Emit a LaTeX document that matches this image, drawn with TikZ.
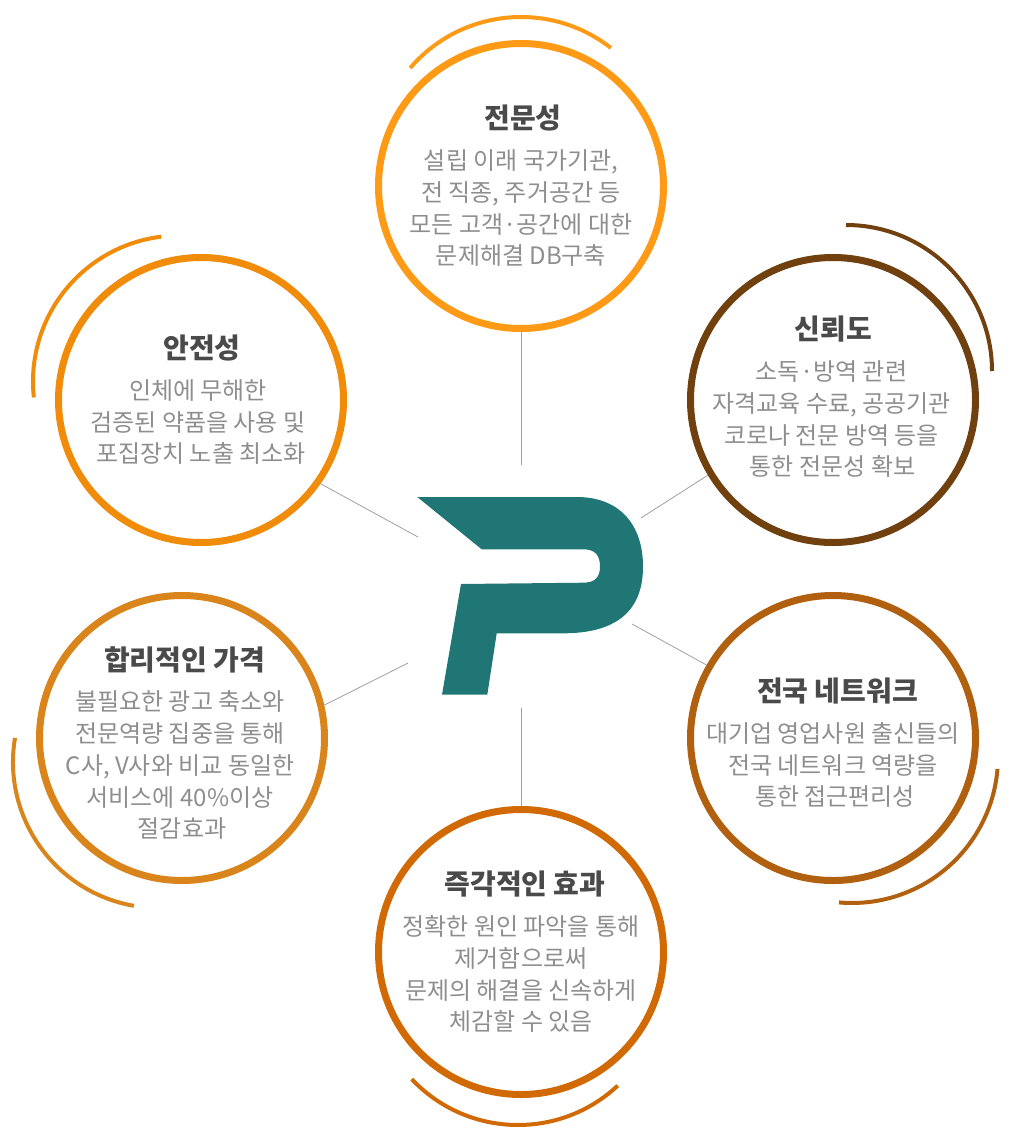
\documentclass[tikz,border=0pt]{standalone}
\usepackage{fontspec}
\setmainfont{Noto Sans CJK KR}
\usepackage{xcolor}
\usepackage{tikz}
\definecolor{expertc}{HTML}{FF9A17}
\definecolor{trustc}{HTML}{70400F}
\definecolor{netc}{HTML}{B0600F}
\definecolor{quickc}{HTML}{D16A05}
\definecolor{pricec}{HTML}{D9851C}
\definecolor{safec}{HTML}{F08C0A}
\definecolor{logoc}{HTML}{207575}
\definecolor{titlec}{HTML}{4A4A4A}
\definecolor{bodyc}{HTML}{8E8E8E}
\definecolor{linec}{HTML}{A0A0A0}
\newcommand{\ttl}[2]{\hspace*{#1pt}{\fontsize{28}{31.7}\selectfont\bfseries\color{titlec}#2}\\[9pt]}

\begin{document}
\begin{tikzpicture}[x=1pt, y=-1pt, 
    main/.style = {draw, circle, line width=7pt, minimum size=285pt, inner sep=0pt, outer sep=3.5pt},
    topic/.style = {align=center, inner sep=0pt, text=bodyc, font=\fontsize{24}{31.7}\selectfont},
    ring/.style = {line width=4pt},
    spoke/.style = {draw=linec, line width=0.8pt}]
    \useasboundingbox (0,0) rectangle (1024,1140);
    \node[main, draw=expertc] (expert) at (521,186) {};
    \node[main, draw=trustc] (trust) at (833,400) {};
    \node[main, draw=netc] (net) at (833,738) {};
    \node[main, draw=quickc] (quick) at (521,952) {};
    \node[main, draw=pricec] (price) at (182,738) {};
    \node[main, draw=safec] (safe) at (201,400) {};
    % circle texts
    \node[topic] (experttext) at (521,186) {\ttl{4}{전문성}설립 이래 국가기관,\\전 직종, 주거공간 등\\모든 고객·공간에 대한\\문제해결 DB구축};
    \node[topic] (trusttext) at (831.5,397) {\ttl{4}{신뢰도}소독·방역 관련\\자격교육 수료, 공공기관\\코로나 전문 방역 등을\\\hspace*{2pt}통한 전문성 확보};
    \node[topic] (nettext) at (833,743) {\ttl{9}{전국 네트워크}대기업 영업사원 출신들의\\전국 네트워크 역량을\\\hspace*{4pt}통한 접근편리성};
    \node[topic] (quicktext) at (521,952) {\ttl{8}{즉각적인 효과}정확한 원인 파악을 통해\\제거함으로써\\문제의 해결을 신속하게\\체감할 수 있음};
    \node[topic] (pricetext) at (180,743) {\ttl{9}{합리적인 가격}불필요한 광고 축소와\\전문역량 집중을 통해\\C사, V사와 비교 동일한\\서비스에 40\%이상\\\hspace*{4pt}절감효과};
    \node[topic] (safetext) at (198,400) {\ttl{8}{안전성}인체에 무해한\\검증된 약품을 사용 및\\\hspace*{6pt}포집장치 노출 최소화};
    % outer rings
    \draw[ring, expertc] (521,163) ++(-139.4:146) arc (-139.4:-52:146);
    \draw[ring, trustc] (846,371) ++(-90:146) arc (-90:0:146);
    \draw[ring, netc] (852,757) ++(4.7:146) arc (4.7:95.1:146);
    \draw[ring, quickc] (518,979) ++(136.7:146) arc (136.7:46.9:146);
    \draw[ring, pricec] (159,762) ++(189.5:146) arc (189.5:99.9:146);
    \draw[ring, safec] (179,381.6) ++(-97:146) arc (-97:-186.2:146);
    % logo
    \fill[logoc] (417.3,497) -- (576.7,497) .. controls (620,497) and (643,525) .. (643,566.7)
        .. controls (643,612) and (615,633.3) .. (563,633.3) -- (496.7,633.3) -- (487.3,694.7) -- (442,694.7)
        -- (461,584) -- (583.3,582.7) .. controls (595,582.7) and (600,577) .. (600,566.7)
        .. controls (600,555) and (595,549.3) .. (583.3,549.3) -- (481.7,549.3) -- cycle;
    % spokes
    \coordinate (e1) at (521,465);
    \coordinate (t1) at (641,518);
    \coordinate (n1) at (632,624);
    \coordinate (q1) at (521,708);
    \coordinate (p1) at (408,663);
    \coordinate (s1) at (418,537);
    \draw[spoke] (expert.south) -- (e1);
    \draw[spoke] (trust.-149) -- (t1);
    \draw[spoke] (net.150) -- (n1);
    \draw[spoke] (quick.north) -- (q1);
    \draw[spoke] (price.13) -- (p1);
    \draw[spoke] (safe.-35) -- (s1);
\end{tikzpicture}
\end{document}
